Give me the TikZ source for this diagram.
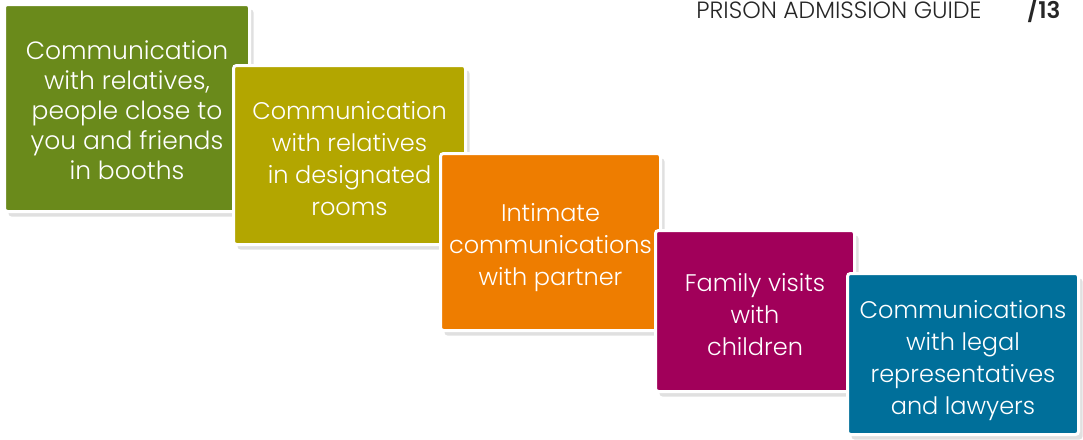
\documentclass[tikz,border=0pt]{standalone}
\usepackage{fontspec}
\setmainfont{Poppins}[UprightFont=* Light,BoldFont=* SemiBold]
\usetikzlibrary{shadows}
\definecolor{boothgreen}{HTML}{6A8A1B}
\definecolor{roomolive}{HTML}{B3A600}
\definecolor{partnerorange}{HTML}{EE7D00}
\definecolor{childmagenta}{HTML}{A1005A}
\definecolor{lawyerblue}{HTML}{006F9A}
\tikzset{
  commbox/.style={rectangle,rounded corners=3pt,draw=white,line width=3pt,inner sep=0pt,
    drop shadow={shadow xshift=4pt,shadow yshift=-5pt,opacity=0.2,fill=black!60}},
  commtext/.style={text=white,align=center,inner sep=0pt,
    font=\fontsize{24}{32}\selectfont},
}
\begin{document}
\begin{tikzpicture}[x=1pt,y=-1pt]
	\useasboundingbox (0,0) rectangle (1083,439);
	% page header
	\node[anchor=base east,font=\fontsize{23.5}{24}\selectfont,text=black!85] (guide) at (985,18) {PRISON ADMISSION GUIDE};
	\node[anchor=base east,font=\bfseries\fontsize{23}{24}\selectfont,text=black!85] (page) at (1064,18) {/13};
	% the five boxes, each one over the previous
	\node[commbox,fill=boothgreen,minimum width=245pt,minimum height=207pt] (booths) at (127,108) {};
	\node[commtext,font=\fontsize{25}{30}\selectfont] (booths-text) at ([yshift=-2pt]booths.center)
		{Communication\\with relatives,\\people close to\\you and friends\\in booths};
	\node[commbox,fill=roomolive,minimum width=232pt,minimum height=179pt] (rooms) at (349.5,155) {};
	\node[commtext] (rooms-text) at ([yshift=-4pt]rooms.center)
		{Communication\\with relatives\\in designated\\rooms};
	\node[commbox,fill=partnerorange,minimum width=220pt,minimum height=177pt] (partner) at (550.5,242) {};
	\node[commtext] (partner-text) at ([yshift=-6pt]partner.center)
		{Intimate\\communications\\with partner};
	\node[commbox,fill=childmagenta,minimum width=199pt,minimum height=161pt] (children) at (755,311) {};
	\node[commtext] (children-text) at ([yshift=-4pt]children.center)
		{Family visits\\with\\children};
	\node[commbox,fill=lawyerblue,minimum width=231pt,minimum height=161pt] (lawyers) at (963,354) {};
	\node[commtext] (lawyers-text) at ([yshift=-7pt]lawyers.center)
		{Communications\\with legal\\representatives\\and lawyers};
\end{tikzpicture}
\end{document}
